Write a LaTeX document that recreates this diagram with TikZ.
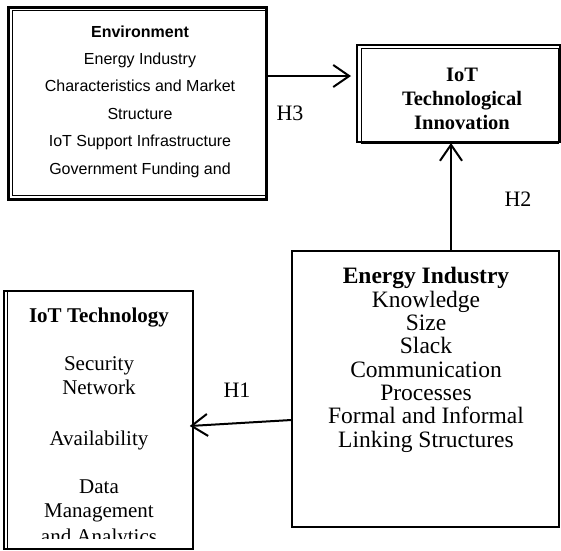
\documentclass[tikz,border=0pt]{standalone}
\usepackage{fontspec}
\setmainfont{Liberation Serif}
\newfontfamily\envfont{Liberation Sans}
\usetikzlibrary{arrows.meta}

\begin{document}
\begin{tikzpicture}[x=1pt,y=-1pt,
    box/.style={draw,line width=1.5pt,inner sep=0pt},
    rim/.style={line width=0.8pt},
    txt/.style={align=center,anchor=base,inner sep=0pt},
    arr/.style={line width=2pt,-{Straight Barb[length=16pt,width=22pt,line width=2pt]}},
    hyp/.style={font=\fontsize{22}{24}\selectfont,anchor=base,inner sep=0pt}]
                \useasboundingbox (0,0) rectangle (561,550);
                \node (env) [box,line width=3pt,minimum width=258pt,minimum height=192pt] at (137,103) {};
                \draw [rim] ([shift={(6pt,-5pt)}]env.north west) rectangle ([shift={(-2pt,5pt)}]env.south east);
                \node (innov) [box,line width=2pt,minimum width=203pt,minimum height=97pt] at (458.5,93.5) {};
                \draw [rim] ([shift={(5pt,-4pt)}]innov.north west) rectangle ([xshift=-3pt]innov.south east);
                \node (tech) [box,minimum width=189pt,minimum height=258pt] at (98.5,420) {};
                \draw [rim,line width=1.5pt] ([xshift=4pt]tech.north west) -- ([xshift=4pt]tech.south west);
                \node (ind) [box,minimum width=267pt,minimum height=276pt] at (425.5,389) {};
                \node (envtxt) [txt,font=\envfont\fontsize{16}{27.4}\selectfont] at (140,174) {\textbf{Environment}\\Energy Industry\\Characteristics and Market\\Structure\\IoT Support Infrastructure\\Government Funding and};
                \node (innovtxt) [txt,font=\bfseries\fontsize{20.5}{24}\selectfont] at (462,129) {IoT\\Technological\\Innovation};
                \node (indtxt) [txt,font=\fontsize{23.5}{23.3}\selectfont] at (426,447) {\textbf{Energy Industry}\\Knowledge\\Size\\Slack\\Communication\\Processes\\Formal and Informal\\Linking Structures};
                \begin{scope}
                \clip (tech.north west) rectangle ([yshift=11pt]tech.south east);
                \node (techtxt) [txt,font=\fontsize{21}{24}\selectfont] at (99,543) {\textbf{IoT Technology}\\[24pt]Security\\Network\\[27pt]Availability\\[24pt]Data\\Management\\[2pt]and Analytics};
                \end{scope}
                \draw [arr] ([yshift=27pt]env.east) -- ([shift={(-5pt,17.5pt)}]innov.west);
                \draw [arr] ([xshift=25.5pt]ind.north) -- ([xshift=-7.5pt]innov.south);
                \draw [arr] ([yshift=-31pt]ind.west) -- ([shift={(-4pt,-6pt)}]tech.east);
                \node (hthree) [hyp] at (290,120) {H3};
                \node (htwo) [hyp] at (518,206) {H2};
                \node (hone) [hyp] at (237,397) {H1};
            \end{tikzpicture}
\end{document}
